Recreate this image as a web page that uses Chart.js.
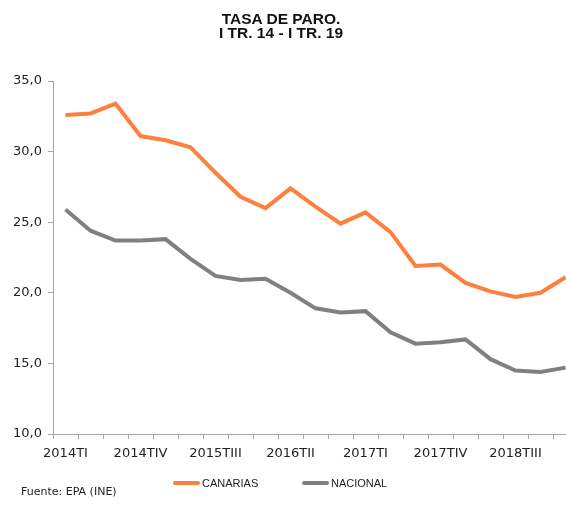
<!DOCTYPE html>
<html>
<head>
<meta charset="utf-8">
<script src="https://cdn.jsdelivr.net/npm/chart.js@4"></script>
<style>
  html, body { margin: 0; padding: 0; background: #fff; overflow: hidden; width: 566px; height: 505px; }
  #wrap { position: absolute; left: 0; top: 0; width: 578px; height: 505px; }
  #title { position: absolute; left: 0; width: 562px; top: 12px; text-align: center; font: bold 15.5px "Liberation Sans", Arial, sans-serif; line-height: 14px; color: #111; }
  #legend { position: absolute; top: 477px; left: 0; width: 566px; font: 11px "Liberation Sans", Arial, sans-serif; color: #222; }
  #legend .item { position: absolute; display: flex; align-items: center; }
  #legend .sw { display: inline-block; width: 27px; height: 4px; border-radius: 2px; margin-right: 2px; }
  #source { position: absolute; left: 21px; top: 485px; font: 11px "DejaVu Sans", Verdana, sans-serif; color: #222; }
</style>
</head>
<body>
<div id="wrap"><canvas id="c" width="578" height="505"></canvas></div>
<div id="title">TASA DE PARO.<br>I TR. 14 - I TR. 19</div>
<div id="legend"></div>
<div id="source">Fuente: EPA (INE)</div>
<script>
// quarters 2014TI .. 2019TI
const quarters = ['2014TI','2014TII','2014TIII','2014TIV','2015TI','2015TII','2015TIII','2015TIV',
  '2016TI','2016TII','2016TIII','2016TIV','2017TI','2017TII','2017TIII','2017TIV',
  '2018TI','2018TII','2018TIII','2018TIV','2019TI'];
const canarias = [32.6, 32.7, 33.4, 31.1, 30.8, 30.3, 28.5, 26.8, 26.0, 27.4, 26.1,
  24.9, 25.7, 24.3, 21.9, 22.0, 20.7, 20.1, 19.7, 20.0, 21.1];
const nacional = [25.9, 24.4, 23.7, 23.7, 23.8, 22.4, 21.2, 20.9, 21.0, 20.0, 18.9,
  18.6, 18.7, 17.2, 16.4, 16.5, 16.7, 15.3, 14.5, 14.4, 14.7];
const seriesNames = ['CANARIAS', 'NACIONAL'];
const seriesColors = ['#FF7F3F', '#808080'];
const yTicks = [10, 15, 20, 25, 30, 35];

const axisColor = '#a6a6a6';
const tickFont = { family: '"DejaVu Sans", Verdana, sans-serif', size: 13 };

const chart = new Chart(document.getElementById('c'), {
  type: 'line',
  data: {
    labels: quarters,
    datasets: [canarias, nacional].map((d, i) => ({
      label: seriesNames[i],
      data: d,
      borderColor: seriesColors[i],
      backgroundColor: seriesColors[i],
      borderWidth: 4,
      pointRadius: 0,
      tension: 0,
      fill: false
    }))
  },
  options: {
    responsive: false,
    animation: false,
    layout: { padding: { top: 81, left: 0, right: 0, bottom: 41 } },
    plugins: { legend: { display: false }, title: { display: false }, tooltip: { enabled: false } },
    scales: {
      x: {
        offset: true,
        afterFit: s => { s.height = 30; },
        grid: { offset: true, drawOnChartArea: false, drawTicks: true, tickLength: 5, color: axisColor },
        border: { display: true, color: axisColor, width: 1 },
        ticks: {
          autoSkip: false, maxRotation: 0, padding: 7, color: '#222', font: tickFont,
          callback: (v, i) => (i % 3 === 0 ? quarters[i] : '')
        }
      },
      y: {
        min: yTicks[0], max: yTicks[yTicks.length - 1],
        afterFit: s => { s.width = 53; },
        afterBuildTicks: s => { s.ticks = yTicks.map(v => ({ value: v })); },
        grid: { drawOnChartArea: false, drawTicks: true, tickLength: 5, color: axisColor },
        border: { display: true, color: axisColor, width: 1 },
        ticks: {
          padding: 6, color: '#222', font: tickFont,
          callback: v => v.toFixed(1).replace('.', ',')
        }
      }
    }
  }
});

// legend (html)
const legendX = [173, 302];
const legend = document.getElementById('legend');
seriesNames.forEach((name, i) => {
  const it = document.createElement('div');
  it.className = 'item';
  it.style.left = legendX[i] + 'px';
  it.innerHTML = `<span class="sw" style="background:${seriesColors[i]}"></span><span>${name}</span>`;
  legend.appendChild(it);
});
</script>
</body>
</html>
